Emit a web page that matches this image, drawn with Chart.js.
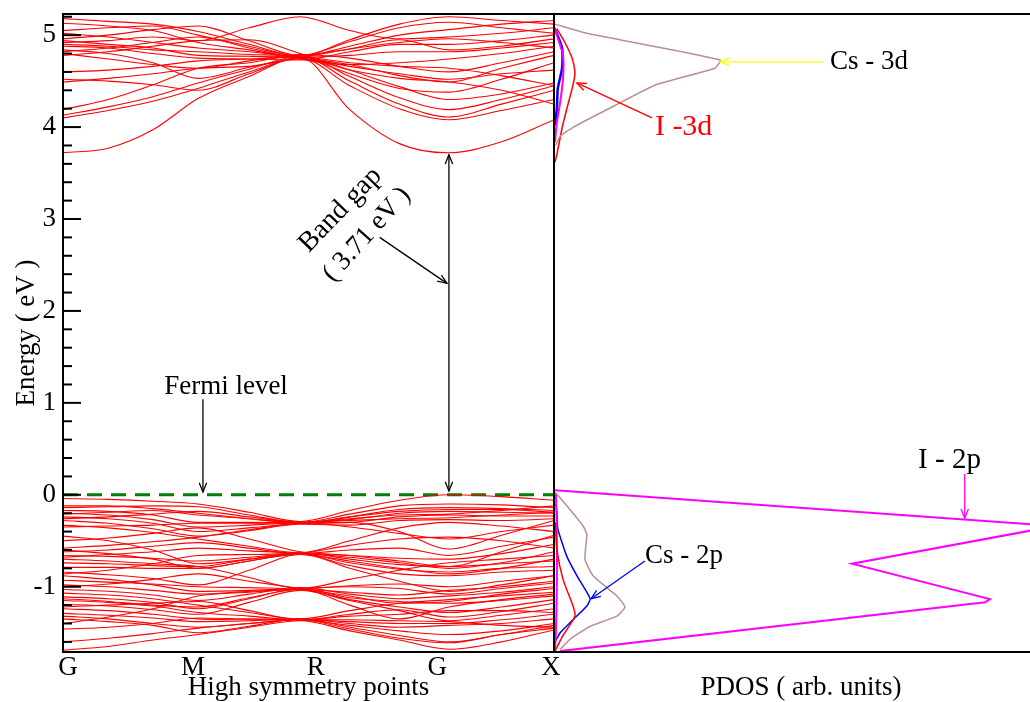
<!DOCTYPE html>
<html>
<head>
<meta charset="utf-8">
<script src="https://cdn.jsdelivr.net/npm/chart.js@4/dist/chart.umd.min.js"></script>
<style>
html,body{margin:0;padding:0;background:#fff;overflow:hidden;width:1030px;height:702px;}
#bandWrap{position:absolute;left:0;top:0;width:560px;height:702px;}
#pdosWrap{position:absolute;left:554px;top:0;width:494px;height:702px;}
</style>
</head>
<body>
<div id="bandWrap"><canvas id="band" width="560" height="702"></canvas></div>
<div id="pdosWrap"><canvas id="pdos" width="494" height="702"></canvas></div>
<script>
// ---------------- DATA ----------------
// k-path sample positions (fraction of path): G, ., ., M, ., R, ., ., G, ., X
const kPoints = [0, 0.092, 0.183, 0.275, 0.379, 0.483, 0.584, 0.685, 0.786, 0.893, 1.0];
const kLabels = ['G', 'M', 'R', 'G', 'X'];
const kLabelPos = [0.010, 0.265, 0.515, 0.762, 0.994];
const energyTicks = [-1, 0, 1, 2, 3, 4, 5];
const energyRange = [-1.71, 5.23];
const fermiLevel = 0;
const bandGapLabel = '( 3.71 eV )';

// conduction bands (eV) at kPoints
const conductionBands = [
  [3.72, 3.77, 3.97, 4.31, 4.55, 4.76, 4.19, 3.82, 3.72, 3.84, 4.08],
  [4.10, 4.18, 4.28, 4.42, 4.60, 4.75, 4.45, 4.20, 4.08, 4.18, 4.30],
  [4.13, 4.22, 4.33, 4.48, 4.63, 4.77, 4.50, 4.25, 4.11, 4.25, 4.40],
  [4.19, 4.30, 4.46, 4.64, 4.70, 4.78, 4.55, 4.32, 4.19, 4.30, 4.45],
  [4.52, 4.50, 4.46, 4.40, 4.58, 4.75, 4.62, 4.53, 4.49, 4.40, 4.25],
  [4.49, 4.53, 4.58, 4.64, 4.66, 4.74, 4.66, 4.58, 4.52, 4.58, 4.62],
  [4.80, 4.74, 4.68, 4.64, 4.72, 4.79, 4.75, 4.66, 4.60, 4.70, 4.82],
  [4.84, 4.80, 4.70, 4.53, 4.65, 4.76, 4.85, 4.95, 4.84, 4.88, 4.96],
  [4.88, 4.86, 4.80, 4.75, 4.74, 4.73, 4.82, 4.90, 4.90, 4.94, 5.00],
  [4.92, 4.94, 4.98, 4.94, 5.08, 5.20, 5.05, 4.96, 4.98, 5.02, 5.08],
  [4.96, 5.00, 5.06, 5.10, 4.94, 4.78, 4.93, 5.08, 5.14, 5.08, 5.02],
  [5.05, 5.08, 5.10, 5.00, 4.88, 4.77, 4.88, 5.00, 5.06, 5.12, 5.16],
  [5.13, 5.10, 5.05, 4.92, 4.84, 4.76, 4.78, 4.82, 4.82, 4.86, 4.92],
  [4.82, 4.86, 4.92, 4.98, 4.86, 4.74, 4.68, 4.70, 4.74, 4.80, 4.88],
  [4.78, 4.82, 4.88, 4.94, 4.95, 4.80, 4.62, 4.44, 4.30, 4.36, 4.48],
  [4.90, 4.88, 4.84, 4.82, 4.79, 4.76, 4.58, 4.42, 4.38, 4.52, 4.70],
  [5.02, 4.98, 4.92, 4.86, 4.82, 4.77, 4.85, 4.92, 4.96, 4.92, 4.86],
  [4.60, 4.62, 4.66, 4.72, 4.74, 4.76, 4.70, 4.66, 4.64, 4.56, 4.45],
  [4.94, 4.90, 4.86, 4.78, 4.77, 4.75, 4.68, 4.56, 4.49, 4.64, 4.78],
  [5.18, 5.15, 5.12, 5.04, 4.90, 4.77, 4.95, 5.12, 5.20, 5.16, 5.12]
];

// valence bands (eV) at kPoints
const valenceBands = [
  [-0.04, -0.05, -0.07, -0.10, -0.19, -0.29, -0.17, -0.06, 0.00, -0.02, -0.06],
  [-0.14, -0.13, -0.12, -0.13, -0.22, -0.30, -0.21, -0.12, -0.10, -0.11, -0.14],
  [-0.17, -0.18, -0.22, -0.30, -0.30, -0.31, -0.24, -0.16, -0.14, -0.15, -0.17],
  [-0.20, -0.22, -0.27, -0.35, -0.33, -0.30, -0.27, -0.20, -0.18, -0.19, -0.20],
  [-0.24, -0.26, -0.31, -0.40, -0.36, -0.31, -0.30, -0.24, -0.22, -0.23, -0.23],
  [-0.28, -0.31, -0.37, -0.45, -0.39, -0.32, -0.33, -0.28, -0.27, -0.28, -0.26],
  [-0.33, -0.36, -0.41, -0.48, -0.56, -0.63, -0.50, -0.36, -0.30, -0.34, -0.40],
  [-0.58, -0.55, -0.51, -0.46, -0.38, -0.31, -0.30, -0.40, -0.59, -0.44, -0.28],
  [-0.62, -0.60, -0.56, -0.52, -0.58, -0.64, -0.60, -0.58, -0.66, -0.56, -0.46],
  [-0.66, -0.67, -0.69, -0.72, -0.68, -0.64, -0.66, -0.69, -0.70, -0.64, -0.54],
  [-0.70, -0.72, -0.75, -0.78, -0.90, -1.02, -0.92, -0.82, -0.74, -0.70, -0.66],
  [-0.74, -0.75, -0.77, -0.78, -0.70, -0.63, -0.70, -0.76, -0.78, -0.75, -0.72],
  [-0.79, -0.79, -0.80, -0.80, -0.72, -0.64, -0.74, -0.81, -0.84, -0.80, -0.78],
  [-0.84, -0.87, -0.91, -0.98, -0.82, -0.65, -0.77, -0.86, -0.88, -0.84, -0.82],
  [-0.93, -0.95, -0.97, -1.00, -1.01, -1.02, -0.99, -0.97, -1.00, -0.94, -0.88],
  [-0.98, -1.00, -1.04, -1.08, -1.05, -1.03, -1.06, -1.09, -1.04, -1.00, -0.94],
  [-1.03, -1.05, -1.09, -1.15, -1.08, -1.01, -1.08, -1.13, -1.10, -1.06, -1.00],
  [-1.07, -1.09, -1.13, -1.20, -1.28, -1.35, -1.26, -1.18, -1.14, -1.10, -1.06],
  [-1.11, -1.13, -1.17, -1.24, -1.13, -1.02, -1.12, -1.16, -1.18, -1.15, -1.10],
  [-1.15, -1.17, -1.21, -1.28, -1.32, -1.36, -1.30, -1.25, -1.33, -1.27, -1.18],
  [-1.19, -1.21, -1.25, -1.30, -1.17, -1.04, -1.15, -1.26, -1.37, -1.31, -1.24],
  [-1.24, -1.26, -1.30, -1.35, -1.36, -1.36, -1.38, -1.40, -1.40, -1.36, -1.30],
  [-1.29, -1.31, -1.34, -1.38, -1.37, -1.35, -1.40, -1.44, -1.42, -1.40, -1.35],
  [-1.35, -1.38, -1.42, -1.50, -1.43, -1.35, -1.44, -1.53, -1.60, -1.52, -1.42],
  [-1.60, -1.56, -1.51, -1.45, -1.40, -1.36, -1.46, -1.56, -1.61, -1.52, -1.45],
  [-1.69, -1.65, -1.58, -1.52, -1.44, -1.37, -1.48, -1.58, -1.68, -1.60, -1.47],
  [-0.50, -0.47, -0.42, -0.36, -0.48, -0.62, -0.66, -0.72, -0.78, -0.62, -0.44],
  [-0.86, -0.82, -0.75, -0.66, -0.65, -0.64, -0.80, -0.94, -1.05, -0.98, -0.88],
  [-1.40, -1.33, -1.24, -1.10, -1.06, -1.03, -1.20, -1.35, -1.22, -1.14, -1.08],
  [-0.45, -0.50, -0.60, -0.75, -0.70, -0.64, -0.55, -0.48, -0.46, -0.50, -0.58],
  [-0.21, -0.19, -0.17, -0.22, -0.26, -0.30, -0.26, -0.22, -0.21, -0.17, -0.12],
  [-0.26, -0.24, -0.21, -0.18, -0.24, -0.30, -0.28, -0.26, -0.25, -0.22, -0.19],
  [-0.60, -0.64, -0.70, -0.80, -0.72, -0.64, -0.68, -0.74, -0.80, -0.74, -0.62],
  [-0.68, -0.65, -0.62, -0.58, -0.61, -0.64, -0.72, -0.80, -0.86, -0.80, -0.70],
  [-0.88, -0.92, -0.98, -1.05, -1.04, -1.02, -1.00, -1.02, -1.08, -1.02, -0.96],
  [-1.00, -0.97, -0.92, -0.86, -0.94, -1.02, -1.10, -1.18, -1.16, -1.08, -1.02],
  [-1.13, -1.16, -1.20, -1.22, -1.12, -1.03, -1.14, -1.22, -1.28, -1.22, -1.14],
  [-1.22, -1.20, -1.18, -1.16, -1.26, -1.36, -1.32, -1.30, -1.26, -1.26, -1.28],
  [-1.32, -1.35, -1.40, -1.44, -1.40, -1.36, -1.36, -1.37, -1.38, -1.42, -1.44],
  [-1.46, -1.44, -1.40, -1.34, -1.35, -1.36, -1.42, -1.48, -1.52, -1.48, -1.40],
  [-0.35, -0.34, -0.33, -0.31, -0.31, -0.30, -0.35, -0.42, -0.48, -0.40, -0.33],
  [-0.12, -0.12, -0.15, -0.20, -0.26, -0.31, -0.24, -0.18, -0.16, -0.16, -0.19]
];

// PDOS curves: [dos (arb. units), energy (eV)]
const pdosI2p      = [[0.2, 0.05], [105.3, -0.34], [62.6, -0.75], [91.6, -1.135], [90.6, -1.17], [1.3, -1.70]];
const pdosI2pCB    = [[0.2, 5.08], [0.6, 5.0], [1.9, 4.78], [1.9, 4.53], [1.3, 4.27], [0.6, 4.05], [0.2, 3.84]];
const pdosI2pVB    = [[0.4, 0.02], [0.6, -0.4], [0.6, -1.0], [0.4, -1.5], [0.2, -1.7]];
const pdosCs3dCB   = [[0.2, 5.12], [6.9, 5.02], [34.9, 4.73], [33.8, 4.64], [21.4, 4.46], [13.0, 4.24], [4.1, 4.00], [1.3, 3.90], [0.3, 3.80]];
const pdosCs3dVB   = [[0.2, 0.03], [2.7, -0.12], [6.1, -0.34], [6.9, -0.43], [6.5, -0.70], [8.2, -0.88], [13.2, -1.10], [14.9, -1.22], [13.2, -1.32], [7.6, -1.43], [3.4, -1.57], [1.3, -1.68]];
const pdosCs2pCB   = [[0.2, 5.07], [1.7, 4.86], [1.7, 4.64], [0.8, 4.42], [0.6, 4.20], [0.2, 4.02]];
const pdosCs2pVB   = [[0.4, -0.10], [0.6, -0.19], [0.8, -0.37], [2.7, -0.67], [4.8, -0.88], [7.6, -1.13], [6.9, -1.21], [3.4, -1.39], [1.3, -1.50], [0.2, -1.60]];
const pdosI3dCB    = [[0.6, 5.07], [2.3, 4.92], [3.8, 4.75], [4.4, 4.60], [4.0, 4.46], [2.7, 4.20], [1.7, 3.99], [0.6, 3.70], [0.2, 3.62]];
const pdosI3dVB    = [[0.3, -0.30], [0.6, -0.59], [1.9, -0.92], [4.0, -1.21], [4.4, -1.32], [1.9, -1.53], [0.8, -1.64], [0.2, -1.70]];
const pdosMax = 103.8;

// ---------------- STYLE / BUILD ----------------
const FONT = "'Liberation Serif', 'Times New Roman', serif";
Chart.defaults.font.family = FONT;
Chart.defaults.color = '#000';
Chart.defaults.animation = false;

function bandSet(arr) {
  return {
    data: kPoints.map((k, i) => ({x: k, y: arr[i]})),
    borderColor: '#ff0000', borderWidth: 1.1, pointRadius: 0,
    cubicInterpolationMode: 'monotone', fill: false
  };
}
function pdosSet(pairs, color, width, tension) {
  return {
    data: pairs.map(p => ({x: p[0], y: p[1]})),
    borderColor: color, borderWidth: width, pointRadius: 0,
    tension: tension, fill: false
  };
}

function arrow(ctx, x1, y1, x2, y2, color, heads) {
  ctx.save();
  ctx.strokeStyle = color; ctx.lineWidth = 1.3;
  ctx.beginPath(); ctx.moveTo(x1, y1); ctx.lineTo(x2, y2); ctx.stroke();
  const head = (px, py, fx, fy) => {
    const a = Math.atan2(py - fy, px - fx);
    const L = 10, w = 0.38;
    ctx.beginPath();
    ctx.moveTo(px - L * Math.cos(a - w), py - L * Math.sin(a - w));
    ctx.lineTo(px, py);
    ctx.lineTo(px - L * Math.cos(a + w), py - L * Math.sin(a + w));
    ctx.stroke();
  };
  if (heads.end) head(x2, y2, x1, y1);
  if (heads.start) head(x1, y1, x2, y2);
  ctx.restore();
}
function text(ctx, str, x, y, size, color, align, rot) {
  ctx.save();
  ctx.font = size + 'px ' + FONT;
  ctx.fillStyle = color; ctx.textAlign = align || 'center'; ctx.textBaseline = 'middle';
  ctx.translate(x, y);
  if (rot) ctx.rotate(rot * Math.PI / 180);
  ctx.fillText(str, 0, 0);
  ctx.restore();
}

const isInt = v => Math.abs(v - Math.round(v)) < 1e-9;

const framePlugin = {
  id: 'frame',
  afterDatasetsDraw(chart, args, opts) {
    const {ctx, chartArea: a} = chart;
    ctx.save();
    ctx.strokeStyle = '#000'; ctx.lineWidth = 2;
    ctx.strokeRect(a.left, a.top, a.right - a.left, a.bottom - a.top);
    if (opts.innerTicks) {
      const ys = chart.scales.y;
      ys.ticks.forEach(t => {
        const py = ys.getPixelForValue(t.value);
        ctx.beginPath();
        ctx.moveTo(a.left, py);
        ctx.lineTo(a.left + (isInt(t.value) ? 18 : 9), py);
        ctx.stroke();
      });
    }
    ctx.restore();
  }
};

// ---- band structure chart ----
const bandDatasets = [];
conductionBands.forEach(b => bandDatasets.push(bandSet(b)));
valenceBands.forEach(b => bandDatasets.push(bandSet(b)));
bandDatasets.push({
  data: [{x: 0, y: fermiLevel}, {x: 1, y: fermiLevel}],
  borderColor: '#008000', borderWidth: 3, borderDash: [15, 9], pointRadius: 0
});

const bandAnnot = {
  id: 'bandAnnot',
  afterDraw(chart) {
    const {ctx, scales: {x, y}} = chart;
    const X = v => x.getPixelForValue(v), Y = v => y.getPixelForValue(v);
    const gK = kPoints[8];
    text(ctx, 'Fermi level', X(0.332), Y(1.17), 27, '#000');
    arrow(ctx, X(0.285), Y(1.04), X(0.285), Y(fermiLevel + 0.03), '#000', {end: true});
    arrow(ctx, X(gK), Y(fermiLevel + 0.04), X(gK), Y(conductionBands[0][8] - 0.02), '#000', {start: true, end: true});
    arrow(ctx, X(0.645), Y(2.80), X(gK - 0.004), Y(2.30), '#000', {end: true});
    text(ctx, 'Band gap', X(0.565), Y(3.10), 28, '#000', 'center', -46);
    text(ctx, bandGapLabel, X(0.619), Y(2.83), 27, '#000', 'center', -48);
  }
};

new Chart(document.getElementById('band'), {
  type: 'line',
  data: {datasets: bandDatasets},
  options: {
    responsive: false, devicePixelRatio: 1, animation: false,
    layout: {padding: {top: 14, right: 6, left: 0, bottom: 0}},
    plugins: {legend: {display: false}, tooltip: {enabled: false}, frame: {innerTicks: true}},
    scales: {
      x: {
        type: 'linear', min: 0, max: 1,
        afterBuildTicks: s => { s.ticks = kLabelPos.map(v => ({value: v})); },
        afterFit: s => { s.height = 50; s.paddingLeft = 0; s.paddingRight = 0; },
        ticks: {callback: (v, i) => kLabels[i], font: {size: 27, family: FONT}, color: '#000', padding: 0, maxRotation: 0, autoSkip: false},
        grid: {display: false, drawTicks: false},
        border: {display: false},
        title: {display: true, text: 'High symmetry points', font: {size: 27, family: FONT, lineHeight: 1}, color: '#000', padding: {top: 0, bottom: 1}}
      },
      y: {
        type: 'linear', min: energyRange[0], max: energyRange[1],
        afterBuildTicks: s => {
          const t = [];
          for (let i = energyTicks[0] * 5 - 3; i <= energyTicks[energyTicks.length - 1] * 5 + 1; i++) t.push({value: i / 5});
          s.ticks = t;
        },
        afterFit: s => { s.width = 63; s.paddingTop = 0; s.paddingBottom = 0; },
        ticks: {callback: v => isInt(v) && energyTicks.includes(Math.round(v)) ? String(Math.round(v)) : '', font: {size: 27, family: FONT}, color: '#000', padding: 7, autoSkip: false},
        grid: {display: false, drawTicks: false},
        border: {display: false},
        title: {display: true, text: 'Energy ( eV )', font: {size: 27, family: FONT, lineHeight: 1}, color: '#000', padding: {top: 13, bottom: 0}}
      }
    }
  },
  plugins: [framePlugin, bandAnnot]
});

// ---- PDOS chart ----
const pdosDatasets = [
  pdosSet(pdosCs3dCB, '#bc8f8f', 1.5, 0.15),
  pdosSet(pdosCs3dVB, '#bc8f8f', 1.5, 0.15),
  pdosSet(pdosI3dCB, '#ff0000', 1.5, 0.2),
  pdosSet(pdosI3dVB, '#ff0000', 1.5, 0.2),
  pdosSet(pdosI2pCB, '#ff00ff', 2, 0.2),
  pdosSet(pdosI2pVB, '#ff00ff', 2, 0.2),
  pdosSet(pdosCs2pCB, '#0000ff', 2.5, 0.2),
  pdosSet(pdosCs2pVB, '#0000ff', 1.5, 0.15),
  pdosSet(pdosI2p, '#ff00ff', 2, 0)
];

const pdosAnnot = {
  id: 'pdosAnnot',
  afterDraw(chart) {
    const {ctx, scales: {x, y}} = chart;
    const X = v => x.getPixelForValue(v), Y = v => y.getPixelForValue(v);
    text(ctx, 'Cs - 3d', X(58.0), Y(4.71), 27, '#000', 'left');
    arrow(ctx, X(56.7), Y(4.71), X(34.9), Y(4.71), '#ffff00', {end: true});
    text(ctx, 'I -3d', X(21.2), Y(4.0), 30, '#ff0000', 'left');
    arrow(ctx, X(20.6), Y(4.10), X(4.8), Y(4.48), '#ff0000', {end: true});
    text(ctx, 'I - 2p', X(76.5), Y(0.375), 29, '#000', 'left');
    arrow(ctx, X(86.3), Y(0.23), X(86.3), Y(-0.255), '#ff00ff', {end: true});
    text(ctx, 'Cs - 2p', X(19.1), Y(-0.668), 27, '#000', 'left');
    arrow(ctx, X(19.1), Y(-0.72), X(7.8), Y(-1.13), '#0000ff', {end: true});
  }
};

new Chart(document.getElementById('pdos'), {
  type: 'line',
  data: {datasets: pdosDatasets},
  options: {
    responsive: false, devicePixelRatio: 1, animation: false,
    layout: {padding: {top: 14, right: 0, left: 0, bottom: 0}},
    plugins: {legend: {display: false}, tooltip: {enabled: false}, frame: {innerTicks: false}},
    scales: {
      x: {
        type: 'linear', min: 0, max: pdosMax,
        afterFit: s => { s.height = 50; },
        ticks: {display: false},
        grid: {display: false, drawTicks: false},
        border: {display: false},
        title: {display: true, text: 'PDOS ( arb. units)', font: {size: 27, family: FONT, lineHeight: 1}, color: '#000', padding: {top: 0, bottom: 1}}
      },
      y: {type: 'linear', min: energyRange[0], max: energyRange[1], display: false}
    }
  },
  plugins: [framePlugin, pdosAnnot]
});
</script>
</body>
</html>
